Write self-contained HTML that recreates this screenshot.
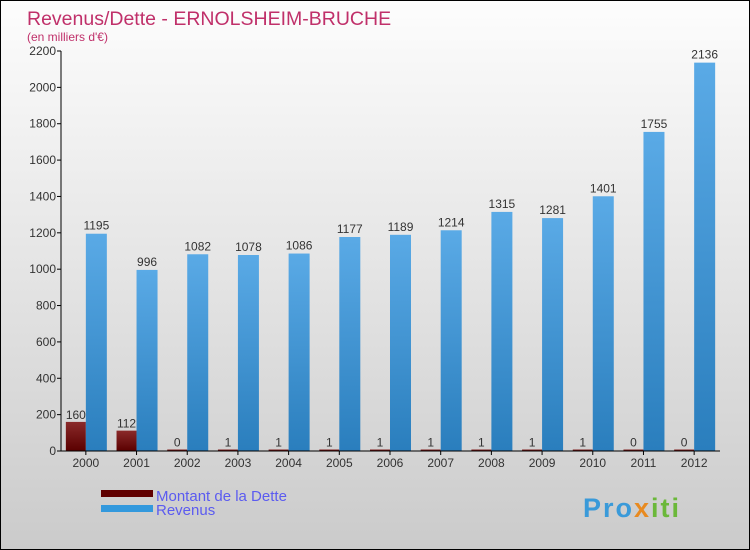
<!DOCTYPE html>
<html><head><meta charset="utf-8"><style>
body{margin:0}
#c{width:750px;height:550px;position:relative;box-sizing:border-box;border:1px solid #000;background:linear-gradient(#fdfdfd,#cbcbcb);font-family:"Liberation Sans",sans-serif;overflow:hidden}
svg text{font-family:"Liberation Sans",sans-serif}
</style></head><body>
<div id="c">
<svg id="s" width="750" height="550">
<defs>
<linearGradient id="gb" x1="0" y1="0" x2="0" y2="1"><stop offset="0" stop-color="#5aaae6"/><stop offset="1" stop-color="#2a7ebd"/></linearGradient>
<linearGradient id="gr" x1="0" y1="0" x2="0" y2="1"><stop offset="0" stop-color="#8a2a2a"/><stop offset="1" stop-color="#5a0000"/></linearGradient>
</defs>
<text x="26" y="24" font-size="19.5" fill="#c0306a">Revenus/Dette - ERNOLSHEIM-BRUCHE</text>
<text x="26" y="40" font-size="12" fill="#c0306a">(en milliers d'€)</text>
<g id="g"></g>
<rect x="100" y="489" width="52" height="7" fill="#600000"/>
<rect x="100" y="504" width="52" height="7" fill="#3399dd"/>
<text x="155" y="500" font-size="15" fill="#5b5bf0">Montant de la Dette</text>
<text x="155" y="514" font-size="15" fill="#5b5bf0">Revenus</text>
<text x="582" y="516" font-size="27" font-weight="bold" letter-spacing="2" fill="#3a9ad9">Pro<tspan fill="#e88a20">x</tspan><tspan fill="#6bb83a">iti</tspan></text>
</svg>
</div>
<script>
const years=["2000","2001","2002","2003","2004","2005","2006","2007","2008","2009","2010","2011","2012"];
const dette=[160,112,0,1,1,1,1,1,1,1,1,0,0];
const revenus=[1195,996,1082,1078,1086,1177,1189,1214,1315,1281,1401,1755,2136];
const yTicks=[0,200,400,600,800,1000,1200,1400,1600,1800,2000,2200];
const NS="http://www.w3.org/2000/svg";
const g=document.getElementById('g');
const x0=60,x1=719,yb=450,yt=50,ymax=2200;
const step=(x1-x0)/years.length;
const Y=v=>yb-(v/ymax)*(yb-yt);
const X=i=>x0+(i+0.5)*step;
function mk(t,a){const e=document.createElementNS(NS,t);for(const k in a)e.setAttribute(k,a[k]);g.appendChild(e);return e;}
yTicks.forEach(v=>{
 const l=mk('line',{x1:x0-4,x2:x0,y1:Y(v),y2:Y(v),stroke:'#000'});
 
 
 const t=mk('text',{x:x0-5,y:Y(v)+4,'text-anchor':'end','font-size':12,fill:'#333'});
 t.textContent=v;
 
 
});
years.forEach((yr,i)=>{
 const c=X(i)-0.5;
 const hd=Math.max(yb-Y(dette[i]),1.5);
 const b1=mk('rect',{x:c-20,y:yb-hd,width:20,height:hd,fill:'url(#gr)'});
 
 
 const b2=mk('rect',{x:c,y:Y(revenus[i]),width:21,height:yb-Y(revenus[i]),fill:'url(#gb)'});
 
 
 const t1=mk('text',{x:c-10,y:yb-hd-3,'text-anchor':'middle','font-size':12,fill:'#333'});
 t1.textContent=dette[i];
 
 
 const t2=mk('text',{x:c+10.5,y:Y(revenus[i])-4,'text-anchor':'middle','font-size':12,fill:'#333'});
 t2.textContent=revenus[i];
 
 
 const tk=mk('line',{x1:c,x2:c,y1:yb,y2:yb+4,stroke:'#000'});
 
 
 const xl=mk('text',{x:c,y:yb+16,'text-anchor':'middle','font-size':12,fill:'#333'});
 xl.textContent=yr;
 
 
});
const ya=mk('line',{x1:x0,x2:x0,y1:yt,y2:yb,stroke:'#000'});


const xa=mk('line',{x1:x0,x2:x1,y1:yb,y2:yb,stroke:'#000'});


</script>
</body></html>
